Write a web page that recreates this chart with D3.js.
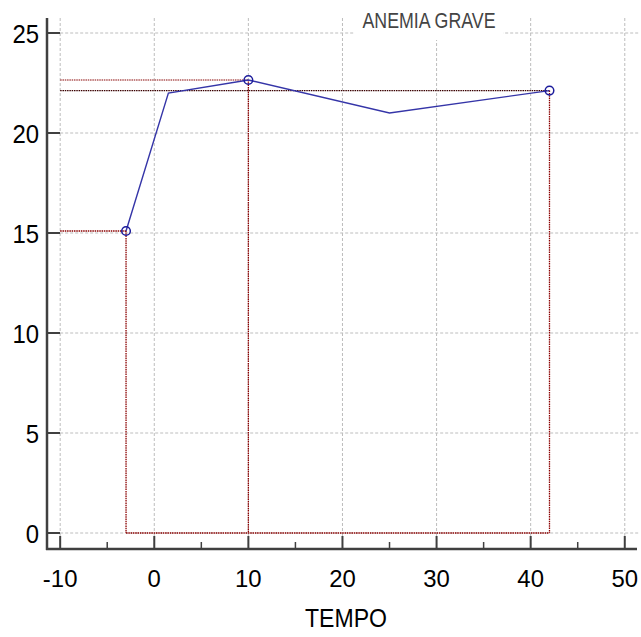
<!DOCTYPE html>
<html><head><meta charset="utf-8">
<script src="https://cdn.jsdelivr.net/npm/d3@7/dist/d3.min.js"></script>
<style>body{margin:0;background:#fff}svg{display:block}text{font-family:"Liberation Sans",Arial,sans-serif}</style>
</head><body>
<script>
const title = "ANEMIA GRAVE";
const xLabel = "TEMPO";
const lineX = [-3, 1.5, 10, 25, 42];
const lineY = [15.1, 22.0, 22.65, 21.0, 22.12];
const markerX = [-3, 10, 42];
const markerY = [15.1, 22.65, 22.12];
const xTicks = [-10, 0, 10, 20, 30, 40, 50];
const xMinorTicks = [-5, 5, 15, 25, 35, 45];
const yTicks = [0, 5, 10, 15, 20, 25];

const W = 641, H = 637;
const svg = d3.select("body").append("svg").attr("width", W).attr("height", H);
const x = d3.scaleLinear().domain([-11.4, 51.3]).range([47, 637]);
const y = d3.scaleLinear().domain([-0.8, 25.75]).range([549, 18]);

const labelLen = d => { const s = String(d); let w = 0; for (const c of s) w += (c === "-" ? 8 : 13.3); return w; };

// grid
const g = svg.append("g");
g.selectAll(".vg").data(xTicks).join("line")
  .attr("x1", d => x(d)).attr("x2", d => x(d)).attr("y1", y(25.75)).attr("y2", y(-0.8))
  .attr("stroke", "#bdbdbd").attr("stroke-dasharray", "3,2").attr("stroke-width", 1);
g.selectAll(".hg").data(yTicks).join("line")
  .attr("x1", x(-10)).attr("x2", 640).attr("y1", d => y(d)).attr("y2", d => y(d))
  .attr("stroke", "#bdbdbd").attr("stroke-dasharray", "3,2").attr("stroke-width", 1);

// title box
svg.append("rect").attr("x", 355).attr("y", 6).attr("width", 148).attr("height", 34).attr("fill", "#fff");
svg.append("text").attr("x", 429).attr("y", 28).attr("text-anchor", "middle")
  .attr("font-size", 22).attr("fill", "#444").attr("textLength", 133).attr("lengthAdjust", "spacingAndGlyphs").text(title);

// reference dotted lines
const ref = svg.append("g").attr("fill", "none").attr("stroke-width", 1.3).attr("stroke-dasharray", "1.5,0.8");
markerX.forEach((mx, i) => {
  const my = markerY[i];
  ref.append("line").attr("x1", x(-10)).attr("x2", x(mx)).attr("y1", y(my)).attr("y2", y(my))
    .attr("stroke", i === 2 ? "#3a0000" : (i === 1 ? "#b05858" : "#8b0000"));
  ref.append("line").attr("x1", x(mx)).attr("x2", x(mx)).attr("y1", y(my)).attr("y2", y(0))
    .attr("stroke", "#8b0000");
});
ref.append("line").attr("x1", x(markerX[0])).attr("x2", x(markerX[2])).attr("y1", y(0)).attr("y2", y(0))
  .attr("stroke", "#8b0000");

// data line
const pts = lineX.map((d, i) => [d, lineY[i]]);
svg.append("path").datum(pts)
  .attr("d", d3.line().x(d => x(d[0])).y(d => y(d[1])))
  .attr("fill", "none").attr("stroke", "#3535a8").attr("stroke-width", 1.4);
svg.selectAll(".mk").data(markerX.map((d, i) => [d, markerY[i]])).join("circle")
  .attr("cx", d => x(d[0])).attr("cy", d => y(d[1])).attr("r", 4.3)
  .attr("fill", "none").attr("stroke", "#1c1c9c").attr("stroke-width", 1.5);

// axes
const ax = svg.append("g").attr("stroke", "#404040");
ax.append("line").attr("x1", 47).attr("x2", 47).attr("y1", 18).attr("y2", 550).attr("stroke-width", 2.5);
ax.append("line").attr("x1", 46).attr("x2", 637).attr("y1", 549).attr("y2", 549).attr("stroke-width", 2.5);
ax.selectAll(".yt").data(yTicks).join("line")
  .attr("x1", 47).attr("x2", 60).attr("y1", d => y(d)).attr("y2", d => y(d)).attr("stroke-width", 2);
ax.selectAll(".xt").data(xTicks).join("line")
  .attr("x1", d => x(d)).attr("x2", d => x(d)).attr("y1", 549).attr("y2", 536).attr("stroke-width", 2);
ax.selectAll(".xm").data(xMinorTicks).join("line")
  .attr("x1", d => x(d)).attr("x2", d => x(d)).attr("y1", 549).attr("y2", 542).attr("stroke-width", 1.5);

svg.selectAll(".yl").data(yTicks).join("text")
  .attr("x", 39).attr("y", d => y(d) + 9.5).attr("text-anchor", "end")
  .attr("font-size", 26).attr("fill", "#000")
  .attr("textLength", labelLen).attr("lengthAdjust", "spacingAndGlyphs").text(d => d);
svg.selectAll(".xl").data(xTicks).join("text")
  .attr("x", d => x(d)).attr("y", 587).attr("text-anchor", "middle")
  .attr("font-size", 24.5).attr("fill", "#000")
  .attr("textLength", labelLen).attr("lengthAdjust", "spacingAndGlyphs").text(d => d);
svg.append("text").attr("x", 346).attr("y", 627).attr("text-anchor", "middle")
  .attr("font-size", 26).attr("fill", "#000").attr("textLength", 82).attr("lengthAdjust", "spacingAndGlyphs").text(xLabel);
</script>
</body></html>
